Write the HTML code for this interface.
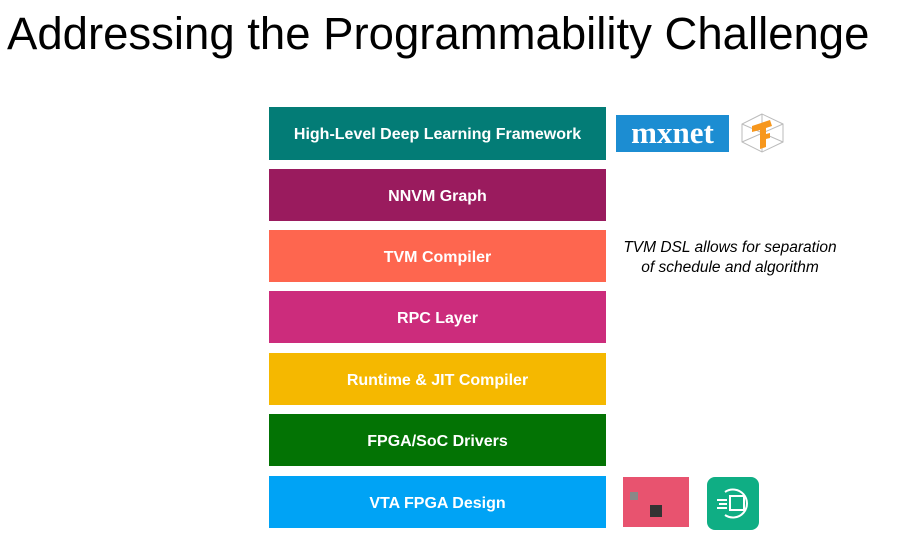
<!DOCTYPE html>
<html><head><style>
body{margin:0;width:924px;height:534px;background:#fff;position:relative;overflow:hidden;font-family:"Liberation Sans",sans-serif}
.t{position:absolute;left:7px;top:8px;font-size:45.5px;color:#000;white-space:nowrap}
.b{position:absolute;left:269px;width:337px;height:52px;color:#fff;font-weight:bold;font-size:16px;display:flex;align-items:center;justify-content:center;padding-top:3px;box-sizing:border-box}
.n{position:absolute;left:605px;top:238px;width:250px;text-align:center;font-style:italic;font-size:15.5px;line-height:20px}
</style></head><body>
<div class="t">Addressing the Programmability Challenge</div>
<div class="b" style="top:107px;height:53px;background:#037c76">High-Level Deep Learning Framework</div>
<div class="b" style="top:169px;background:#9a1b5e">NNVM Graph</div>
<div class="b" style="top:230px;background:#fe664f">TVM Compiler</div>
<div class="b" style="top:291px;background:#cc2c7c">RPC Layer</div>
<div class="b" style="top:353px;background:#f5b800">Runtime &amp; JIT Compiler</div>
<div class="b" style="top:414px;background:#037304">FPGA/SoC Drivers</div>
<div class="b" style="top:476px;background:#00a3f5">VTA FPGA Design</div>
<div class="n">TVM DSL allows for separation<br>of schedule and algorithm</div>
<div style="position:absolute;left:616px;top:115px;width:113px;height:37px;background:#1c8dd2;color:#fff;font-family:'Liberation Serif',serif;font-weight:bold;font-size:31px;line-height:36px;text-align:center">mxnet</div>
<svg style="position:absolute;left:740px;top:112px" width="45" height="42">
<g stroke="#bbb" stroke-width="1" fill="none"><path d="M22 2L2 12L2 30L22 40L43 30L43 12Z M2 12L43 30 M2 30L43 12 M22 2L22 40"/></g>
<path d="M12 14L30 8L32 14L26 16L26 22L30 21L30 26L26 27L26 35L20 37L20 18L12 20Z" fill="#f7971d"/>
</svg>
<div style="position:absolute;left:623px;top:477px;width:66px;height:50px;background:#e8536f"></div>
<div style="position:absolute;left:650px;top:505px;width:12px;height:12px;background:#333"></div>
<div style="position:absolute;left:630px;top:492px;width:8px;height:8px;background:#888"></div>
<div style="position:absolute;left:707px;top:477px;width:52px;height:53px;background:#0fae84;border-radius:8px"></div>
<svg style="position:absolute;left:707px;top:477px" width="52" height="53"><g stroke="#fff" stroke-width="2" fill="none"><path d="M18 15A14 14 0 1 1 18 38"/><rect x="23" y="19" width="14" height="14"/><path d="M10 23h10M12 27h8M10 31h10"/></g></svg>
</body></html>
